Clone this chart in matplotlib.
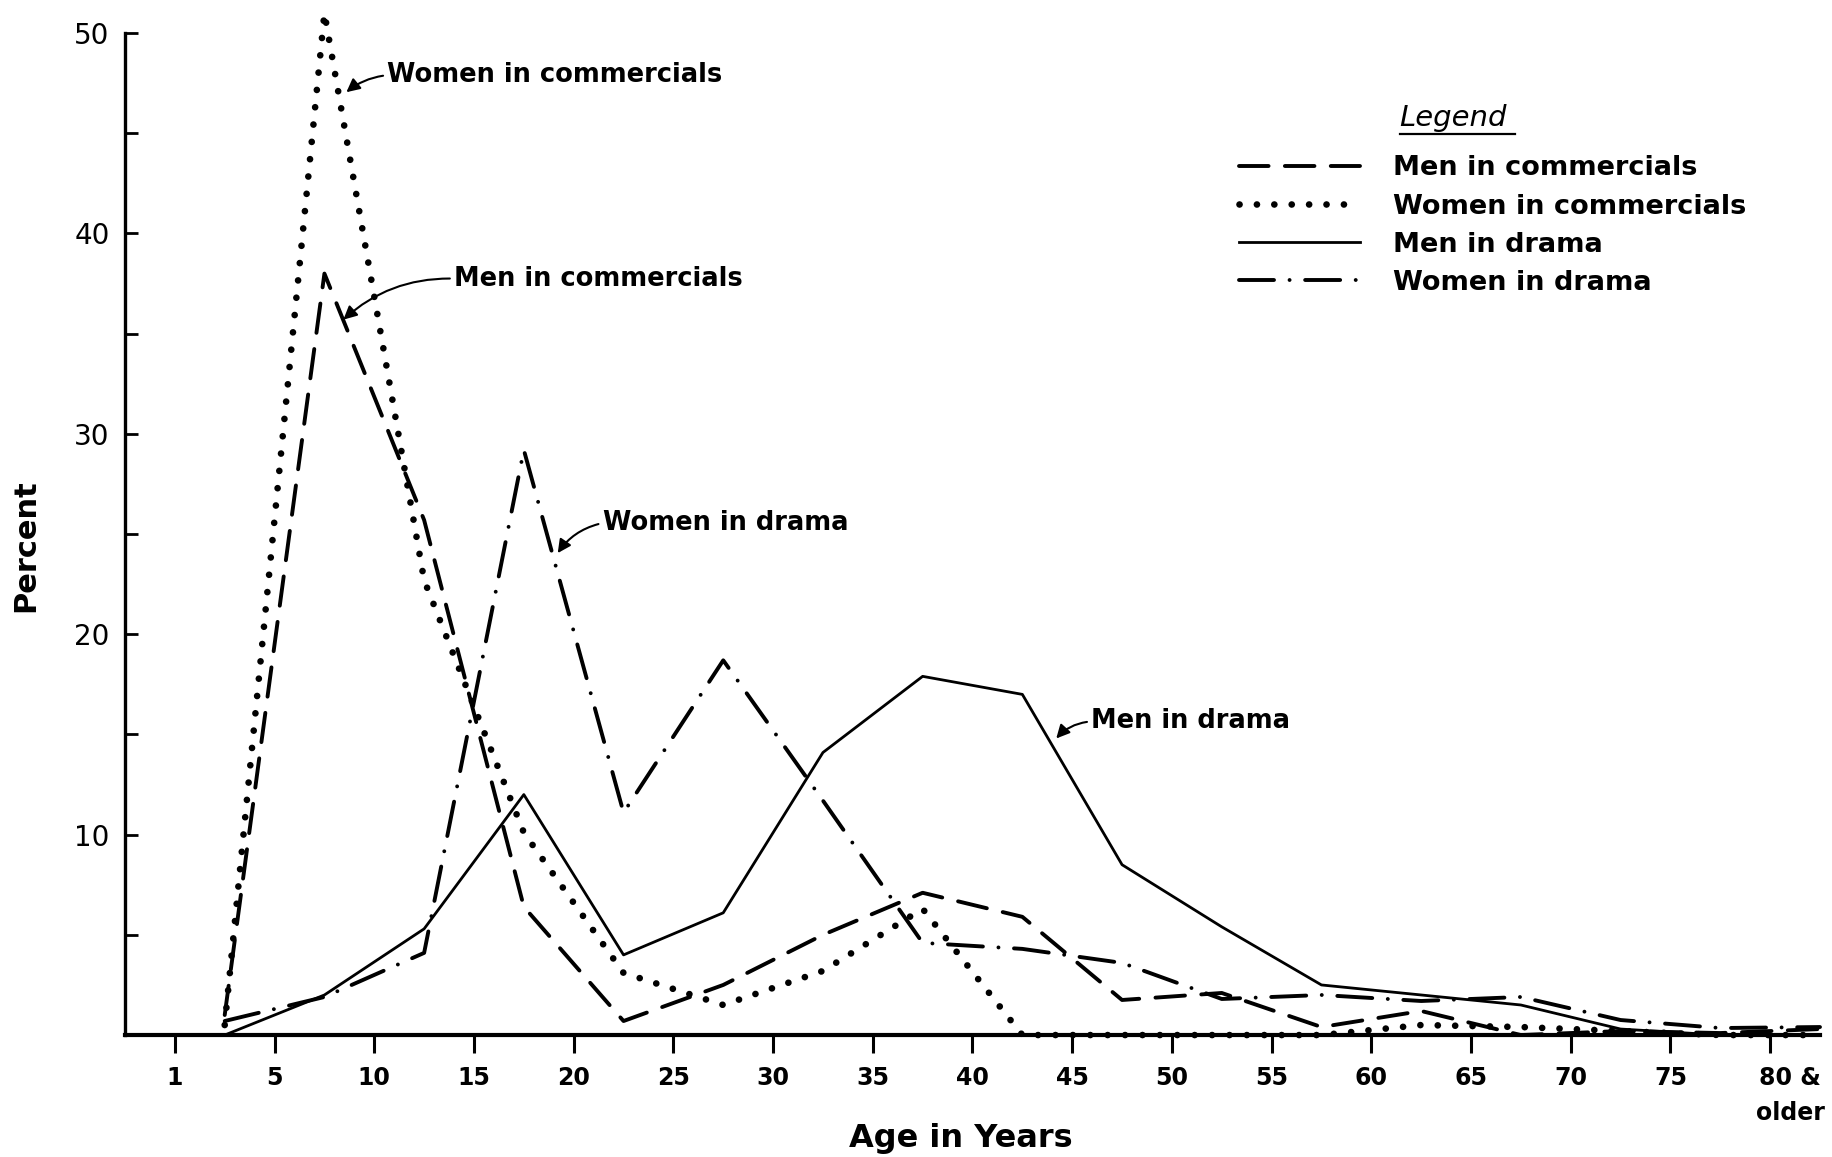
import numpy as np
import matplotlib
matplotlib.use('Agg')
import matplotlib.pyplot as plt
from matplotlib.lines import Line2D
from matplotlib.transforms import ScaledTranslation, IdentityTransform

plt.rcParams['font.family'] = ['DejaVu Sans']

## age groups (tick labels), one point sits in the middle of every bin
age_labels = ['1', '5', '10', '15', '20', '25', '30', '35', '40', '45',
              '50', '55', '60', '65', '70', '75', '80 &\nolder']

## percent per age group
men_comm    = [1.0, 38.0, 25.7, 6.4, 0.7, 2.5, 5.0, 7.1, 5.9, 1.75, 2.1,
               0.4, 1.2, 0.0, 0.2, 0.1, 0.3]
women_comm  = [0.5, 51.0, 22.7, 10.1, 3.1, 1.5, 3.2, 6.3, 0.0, 0.0, 0.0,
               0.0, 0.5, 0.4, 0.2, 0.0, 0.0]
men_drama   = [0.0, 2.0, 5.3, 12.0, 4.0, 6.1, 14.1, 17.9, 17.0, 8.5, 5.4,
               2.5, 2.0, 1.5, 0.3, 0.0, 0.0]
women_drama = [0.7, 1.9, 4.1, 29.2, 11.1, 18.7, 11.7, 4.6, 4.3, 3.6, 1.8,
               2.0, 1.7, 1.9, 0.75, 0.35, 0.4]

names = ['Men in commercials', 'Women in commercials',
         'Men in drama', 'Women in drama']

fig = plt.figure(figsize=(18.33, 11.57), dpi=100)
ax = fig.add_axes([0.0682, 0.1054, 0.9247, 0.866])

x = np.arange(len(men_comm)) + 0.5

l1, = ax.plot(x, men_comm, color='k', lw=2.8, linestyle=(0, (7.6, 4.2)),
              dash_capstyle='round', clip_on=False, label=names[0])
l2, = ax.plot(x, women_comm, color='k', lw=4.8, linestyle=(0, (0.01, 2.6)),
              dash_capstyle='round', clip_on=False, label=names[1])
l3, = ax.plot(x, men_drama, color='k', lw=2.0, linestyle='-',
              clip_on=False, label=names[2])
l4, = ax.plot(x, women_drama, color='k', lw=2.8,
              linestyle=(0, (9, 4, 0.01, 4)), dash_capstyle='round',
              clip_on=False, label=names[3])

ax.set_xlim(-0.5, len(men_comm) - 0.5)
ax.set_ylim(0, 50)

## axes / ticks
for s in ['top', 'right']:
    ax.spines[s].set_visible(False)
ax.spines['left'].set_linewidth(2.4)
ax.spines['bottom'].set_linewidth(3.0)

ax.set_xticks(range(len(age_labels)))
ax.set_xticklabels(age_labels, fontsize=17, fontweight='bold', linespacing=1.6)
ax.set_yticks([10, 20, 30, 40, 50])
ax.set_yticks([5, 15, 25, 35, 45], minor=True)
ax.set_yticklabels(['10', '20', '30', '40', '50'], fontsize=20)
ax.tick_params(axis='x', direction='out', length=13, width=2.2, pad=9)
ax.tick_params(axis='y', which='both', direction='in', length=9, width=2.0, pad=11)

## shift the last label a bit to the right, like the original
lab = ax.get_xticklabels()[-1]
lab.set_transform(lab.get_transform() + ScaledTranslation(0.2, 0, fig.dpi_scale_trans))

ax.set_xlabel('Age in Years', fontsize=23, fontweight='bold')
ax.xaxis.set_label_coords(0.493, -0.088)
ax.set_ylabel('Percent', fontsize=22, fontweight='bold')
ax.yaxis.set_label_coords(-0.05, 0.488)

## annotations next to the curves
akw = dict(fontsize=18.5, fontweight='bold', ha='left', va='baseline')
arr = lambda r: dict(arrowstyle='-|>', color='k', lw=1.5, mutation_scale=20,
                     relpos=(0, 0.5), shrinkA=1, shrinkB=0,
                     connectionstyle='arc3,rad=%.2f' % r)
ax.annotate(names[1], xy=(1.72, 47.05), xytext=(2.13, 47.55),
            arrowprops=arr(0.15), annotation_clip=False, **akw)
ax.annotate(names[0], xy=(1.69, 35.7), xytext=(2.80, 37.4),
            arrowprops=arr(0.2), **akw)
ax.annotate(names[3], xy=(3.84, 24.05), xytext=(4.29, 25.2),
            arrowprops=arr(0.2), **akw)
ax.annotate(names[2], xy=(8.84, 14.8), xytext=(9.19, 15.3),
            arrowprops=arr(0.2), **akw)

## legend
leg = ax.legend(handles=[l1, l2, l3, l4], loc='upper left',
                bbox_to_anchor=(0.657, 0.878), frameon=False, borderpad=0,
                borderaxespad=0, fontsize=19.5, handlelength=4.5,
                handletextpad=1.2, labelspacing=0.45)
for t in leg.get_texts():
    t.set_fontweight('bold')

ttl = ax.text(0.752, 0.907, 'Legend', transform=ax.transAxes, fontsize=21,
              fontstyle='italic', ha='left', va='baseline')
fig.canvas.draw()
bb = ttl.get_window_extent()
fig.add_artist(Line2D([bb.x0, bb.x1 + 8], [bb.y0 - 2, bb.y0 - 2],
                      transform=IdentityTransform(), color='k', lw=1.6))

plt.savefig('out.png', dpi=100, facecolor='white')
